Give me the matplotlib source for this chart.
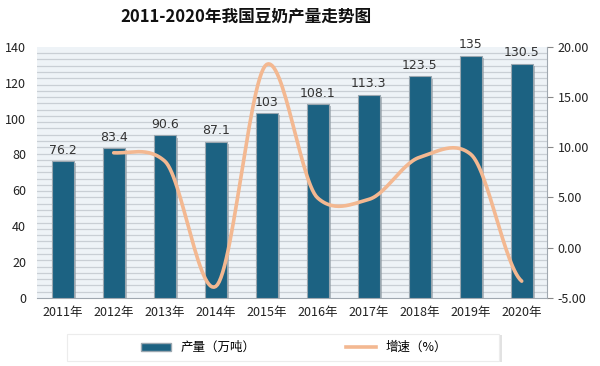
import numpy as np
import matplotlib
matplotlib.use("Agg")
import matplotlib.pyplot as plt
from matplotlib.lines import Line2D
from matplotlib.patches import Patch, Rectangle
import matplotlib.patheffects as pe

plt.rcParams["font.family"] = ["Noto Sans CJK SC", "DejaVu Sans"]

# data
years = ["2011年", "2012年", "2013年", "2014年", "2015年",
         "2016年", "2017年", "2018年", "2019年", "2020年"]
output = [76.2, 83.4, 90.6, 87.1, 103, 108.1, 113.3, 123.5, 135, 130.5]
growth = [9.45, 8.63, -3.86, 18.25, 4.95, 4.81, 9.00, 9.31, -3.33]  # 2012-2020
output_labels = ["76.2", "83.4", "90.6", "87.1", "103", "108.1",
                 "113.3", "123.5", "135", "130.5"]

BAR = "#1c6282"
LINE = "#f3b891"
BG = "#eef3f7"
GRID = "#c9cfd5"


def smooth(x, y, n=30, k=9.0):
    # bezier smoothing through the points, a bit tighter than catmull-rom
    x = np.asarray(x, float)
    y = np.asarray(y, float)
    px = np.concatenate([[2 * x[0] - x[1]], x, [2 * x[-1] - x[-2]]])
    py = np.concatenate([[y[0]], y, [y[-1]]])
    xs, ys = [], []
    t = np.linspace(0, 1, n)
    for i in range(1, len(px) - 2):
        p0, p1, p2, p3 = py[i - 1], py[i], py[i + 1], py[i + 2]
        q0, q1, q2, q3 = px[i - 1], px[i], px[i + 1], px[i + 2]
        b1y, b2y = p1 + (p2 - p0) / k, p2 - (p3 - p1) / k
        b1x, b2x = q1 + (q2 - q0) / 6, q2 - (q3 - q1) / 6
        xs.append((1 - t) ** 3 * q1 + 3 * (1 - t) ** 2 * t * b1x + 3 * (1 - t) * t ** 2 * b2x + t ** 3 * q2)
        ys.append((1 - t) ** 3 * p1 + 3 * (1 - t) ** 2 * t * b1y + 3 * (1 - t) * t ** 2 * b2y + t ** 3 * p2)
    return np.concatenate(xs), np.concatenate(ys)


fig = plt.figure(figsize=(6, 3.66), dpi=100, facecolor="white")
ax = fig.add_axes([0.062, 0.186, 0.85, 0.686])
ax.set_facecolor(BG)

x = np.arange(len(years))
ax.set_xlim(-0.5, len(years) - 0.5)
ax.set_ylim(0, 140)

# striped background
for yy in np.arange(3.5, 140, 3.5):
    ax.axhline(yy, color=GRID, lw=0.9, zorder=0)

bars = ax.bar(x, output, width=0.43, color=BAR, zorder=3,
              edgecolor="#9aa7b0", linewidth=0.8)
for b in bars:
    b.set_path_effects([pe.SimplePatchShadow(offset=(1.5, -1.5), shadow_rgbFace="#8b969e", alpha=0.6),
                        pe.Normal()])

for xi, v, lab in zip(x, output, output_labels):
    ax.text(xi, v + 2.5, lab, ha="center", va="bottom", fontsize=9,
            color="#333333", family=["DejaVu Sans"], zorder=5)

ax.set_xticks(x)
ax.set_xticklabels(years, fontsize=9, color="#222222")
ax.set_yticks(np.arange(0, 141, 20))
ax.tick_params(axis="y", length=0, labelsize=9, colors="#222222", pad=8)
ax.tick_params(axis="x", length=0, pad=6)
for s in ["top", "left", "right"]:
    ax.spines[s].set_visible(False)
ax.spines["bottom"].set_color("#a0a8b0")

ax2 = ax.twinx()
ax2.set_ylim(-5, 20)
ax2.set_yticks(np.arange(-5, 21, 5))
ax2.set_yticklabels([f"{v:.2f}" for v in np.arange(-5, 21, 5)])
ax2.tick_params(axis="y", length=4, color="#888888", labelsize=9, colors="#222222")
for s in ["top", "left", "bottom"]:
    ax2.spines[s].set_visible(False)
ax2.spines["right"].set_color("#a0a8b0")

sx, sy = smooth(x[1:], growth)
ax2.plot(sx, sy, color=LINE, lw=2.6, zorder=4, solid_capstyle="round")

fig.text(0.41, 0.955, "2011-2020年我国豆奶产量走势图", ha="center", va="center",
         fontsize=12, fontweight="bold", color="#111111")

# legend box with a soft shadow
fig.patches.append(Rectangle((0.116, 0.01), 0.72, 0.075, transform=fig.transFigure,
                             facecolor="#e2e2e2", edgecolor="none", zorder=0))
fig.patches.append(Rectangle((0.112, 0.015), 0.72, 0.072, transform=fig.transFigure,
                             facecolor="white", edgecolor="#ececec", lw=0.8, zorder=1))

handles = [Patch(facecolor=BAR, edgecolor="#9aa7b0", label="产量（万吨）"),
           Line2D([0], [0], color=LINE, lw=2.6, label="增速（%）")]
leg = fig.legend(handles=handles, loc="center", bbox_to_anchor=(0.49, 0.05),
                 ncol=2, frameon=False, fontsize=9, columnspacing=7.2,
                 handlelength=2.4, handleheight=0.6)

fig.savefig("out.png", dpi=100, facecolor="white")
